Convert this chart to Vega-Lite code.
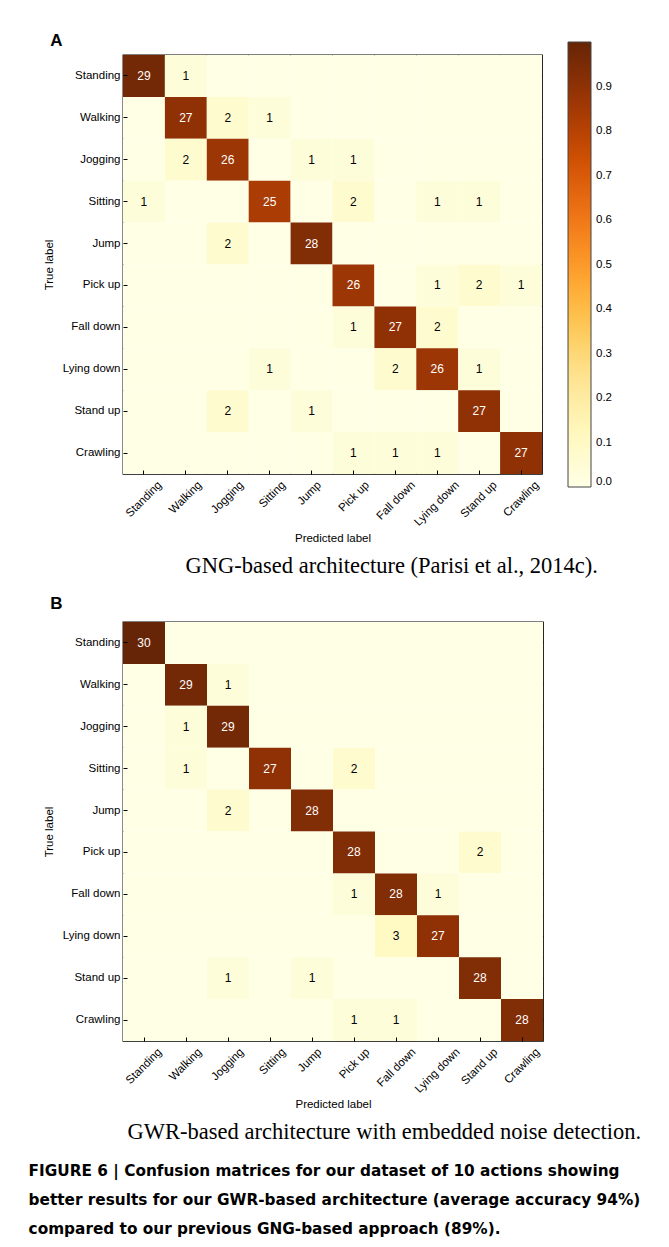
{
  "$schema": "https://vega.github.io/schema/vega-lite/v6.json",
  "background": "white",
  "padding": {"left": 28, "top": 30, "right": 10, "bottom": 10},
  "datasets": {
    "gng": [
      {"truth": "Standing", "Standing": 29, "Walking": 1, "Jogging": 0, "Sitting": 0, "Jump": 0, "Pick up": 0, "Fall down": 0, "Lying down": 0, "Stand up": 0, "Crawling": 0},
      {"truth": "Walking", "Standing": 0, "Walking": 27, "Jogging": 2, "Sitting": 1, "Jump": 0, "Pick up": 0, "Fall down": 0, "Lying down": 0, "Stand up": 0, "Crawling": 0},
      {"truth": "Jogging", "Standing": 0, "Walking": 2, "Jogging": 26, "Sitting": 0, "Jump": 1, "Pick up": 1, "Fall down": 0, "Lying down": 0, "Stand up": 0, "Crawling": 0},
      {"truth": "Sitting", "Standing": 1, "Walking": 0, "Jogging": 0, "Sitting": 25, "Jump": 0, "Pick up": 2, "Fall down": 0, "Lying down": 1, "Stand up": 1, "Crawling": 0},
      {"truth": "Jump", "Standing": 0, "Walking": 0, "Jogging": 2, "Sitting": 0, "Jump": 28, "Pick up": 0, "Fall down": 0, "Lying down": 0, "Stand up": 0, "Crawling": 0},
      {"truth": "Pick up", "Standing": 0, "Walking": 0, "Jogging": 0, "Sitting": 0, "Jump": 0, "Pick up": 26, "Fall down": 0, "Lying down": 1, "Stand up": 2, "Crawling": 1},
      {"truth": "Fall down", "Standing": 0, "Walking": 0, "Jogging": 0, "Sitting": 0, "Jump": 0, "Pick up": 1, "Fall down": 27, "Lying down": 2, "Stand up": 0, "Crawling": 0},
      {"truth": "Lying down", "Standing": 0, "Walking": 0, "Jogging": 0, "Sitting": 1, "Jump": 0, "Pick up": 0, "Fall down": 2, "Lying down": 26, "Stand up": 1, "Crawling": 0},
      {"truth": "Stand up", "Standing": 0, "Walking": 0, "Jogging": 2, "Sitting": 0, "Jump": 1, "Pick up": 0, "Fall down": 0, "Lying down": 0, "Stand up": 27, "Crawling": 0},
      {"truth": "Crawling", "Standing": 0, "Walking": 0, "Jogging": 0, "Sitting": 0, "Jump": 0, "Pick up": 1, "Fall down": 1, "Lying down": 1, "Stand up": 0, "Crawling": 27}
    ],
    "gwr": [
      {"truth": "Standing", "Standing": 30, "Walking": 0, "Jogging": 0, "Sitting": 0, "Jump": 0, "Pick up": 0, "Fall down": 0, "Lying down": 0, "Stand up": 0, "Crawling": 0},
      {"truth": "Walking", "Standing": 0, "Walking": 29, "Jogging": 1, "Sitting": 0, "Jump": 0, "Pick up": 0, "Fall down": 0, "Lying down": 0, "Stand up": 0, "Crawling": 0},
      {"truth": "Jogging", "Standing": 0, "Walking": 1, "Jogging": 29, "Sitting": 0, "Jump": 0, "Pick up": 0, "Fall down": 0, "Lying down": 0, "Stand up": 0, "Crawling": 0},
      {"truth": "Sitting", "Standing": 0, "Walking": 1, "Jogging": 0, "Sitting": 27, "Jump": 0, "Pick up": 2, "Fall down": 0, "Lying down": 0, "Stand up": 0, "Crawling": 0},
      {"truth": "Jump", "Standing": 0, "Walking": 0, "Jogging": 2, "Sitting": 0, "Jump": 28, "Pick up": 0, "Fall down": 0, "Lying down": 0, "Stand up": 0, "Crawling": 0},
      {"truth": "Pick up", "Standing": 0, "Walking": 0, "Jogging": 0, "Sitting": 0, "Jump": 0, "Pick up": 28, "Fall down": 0, "Lying down": 0, "Stand up": 2, "Crawling": 0},
      {"truth": "Fall down", "Standing": 0, "Walking": 0, "Jogging": 0, "Sitting": 0, "Jump": 0, "Pick up": 1, "Fall down": 28, "Lying down": 1, "Stand up": 0, "Crawling": 0},
      {"truth": "Lying down", "Standing": 0, "Walking": 0, "Jogging": 0, "Sitting": 0, "Jump": 0, "Pick up": 0, "Fall down": 3, "Lying down": 27, "Stand up": 0, "Crawling": 0},
      {"truth": "Stand up", "Standing": 0, "Walking": 0, "Jogging": 1, "Sitting": 0, "Jump": 1, "Pick up": 0, "Fall down": 0, "Lying down": 0, "Stand up": 28, "Crawling": 0},
      {"truth": "Crawling", "Standing": 0, "Walking": 0, "Jogging": 0, "Sitting": 0, "Jump": 0, "Pick up": 1, "Fall down": 1, "Lying down": 0, "Stand up": 0, "Crawling": 28}
    ]
  },
  "config": {
    "font": "Liberation Sans",
    "view": {"stroke": "black", "strokeWidth": 1.3},
    "axis": {
      "labelFont": "Liberation Sans",
      "labelFontSize": 11.5,
      "labelColor": "black",
      "tickColor": "black",
      "tickSize": -4,
      "domain": false,
      "grid": false,
      "titleFont": "Liberation Sans",
      "titleFontSize": 11.5,
      "titleFontWeight": "normal",
      "titleColor": "black"
    },
    "legend": {
      "labelFont": "Liberation Sans",
      "labelFontSize": 11.5,
      "labelColor": "black",
      "gradientStrokeColor": "#444",
      "gradientStrokeWidth": 1
    }
  },
  "title": {
    "text": [
      "FIGURE 6 | Confusion matrices for our dataset of 10 actions showing",
      "better results for our GWR-based architecture (average accuracy 94%)",
      "compared to our previous GNG-based approach (89%)."
    ],
    "orient": "bottom",
    "anchor": "start",
    "frame": "bounds",
    "font": "DejaVu Sans",
    "fontSize": 15.3,
    "fontWeight": "bold",
    "color": "black",
    "lineHeight": 29,
    "offset": 21,
    "dx": -14
  },
  "columns": 1,
  "align": "none",
  "spacing": 15,
  "concat": [
    {
      "title": {
        "text": "GNG-based architecture (Parisi et al., 2014c).",
        "orient": "bottom",
        "anchor": "start",
        "frame": "bounds",
        "font": "Liberation Serif",
        "fontSize": 22.5,
        "fontWeight": "normal",
        "color": "black",
        "offset": 10,
        "dx": 143
      },
      "vconcat": [
        {
          "title": {"text": "A", "anchor": "start", "frame": "bounds", "fontSize": 17, "fontWeight": "bold", "color": "black", "dx": 7, "offset": 5},
          "width": 419,
          "height": 419,
          "data": {"name": "gng"},
          "transform": [
            {"fold": ["Standing", "Walking", "Jogging", "Sitting", "Jump", "Pick up", "Fall down", "Lying down", "Stand up", "Crawling"], "as": ["predicted", "count"]}
          ],
          "resolve": {"axis": {"x": "independent", "y": "independent"}},
          "layer": [
            {
              "mark": "rect",
              "encoding": {
                "x": {
                  "field": "predicted", "type": "nominal",
                  "scale": {"domain": ["Standing", "Walking", "Jogging", "Sitting", "Jump", "Pick up", "Fall down", "Lying down", "Stand up", "Crawling"], "padding": 0},
                  "axis": {
                    "orient": "bottom", "title": "Predicted label", "labelAngle": -45, "labelAlign": "right", "labelBaseline": "middle",
                    "labelPadding": 13, "titlePadding": 5,
                    "labelOffset": {"expr": "length(datum.value) * 2.03"}
                  }
                },
                "y": {
                  "field": "truth", "type": "nominal",
                  "scale": {"domain": ["Standing", "Walking", "Jogging", "Sitting", "Jump", "Pick up", "Fall down", "Lying down", "Stand up", "Crawling"], "padding": 0},
                  "axis": {"orient": "left", "title": "True label", "labelPadding": 7, "titlePadding": 8}
                },
                "color": {
                  "field": "count", "type": "quantitative",
                  "scale": {
                    "domain": [0, 3.625, 7.25, 10.875, 14.5, 18.125, 21.75, 25.375, 29],
                    "range": ["#ffffe5", "#fff7bc", "#fee391", "#fec44f", "#fe9929", "#ec7014", "#cc4c02", "#993404", "#662506"]
                  },
                  "legend": {
                    "orient": "none", "legendX": 445, "legendY": -13, "direction": "vertical", "title": null,
                    "gradientLength": 445, "gradientThickness": 23, "labelOffset": 5,
                    "values": [0, 3, 6, 9, 12, 15, 18, 21, 24, 27],
                    "labelExpr": "format(datum.value / 30, '.1f')"
                  }
                }
              }
            },
            {
              "transform": [{"filter": "datum.count > 0"}],
              "mark": {"type": "text", "fontSize": 12, "font": "Liberation Sans"},
              "encoding": {
                "x": {"field": "predicted", "type": "nominal", "axis": {"orient": "top", "labels": false, "title": null}},
                "y": {"field": "truth", "type": "nominal", "axis": {"orient": "right", "labels": false, "title": null}},
                "text": {"field": "count", "type": "quantitative"},
                "color": {"condition": {"test": "datum.count >= 15", "value": "white"}, "value": "black"}
              }
            }
          ]
        }
      ]
    },
    {
      "title": {
        "text": "GWR-based architecture with embedded noise detection.",
        "orient": "bottom",
        "anchor": "start",
        "frame": "bounds",
        "font": "Liberation Serif",
        "fontSize": 22.5,
        "fontWeight": "normal",
        "color": "black",
        "offset": 10,
        "dx": 85
      },
      "vconcat": [
        {
          "title": {"text": "B", "anchor": "start", "frame": "bounds", "fontSize": 17, "fontWeight": "bold", "color": "black", "dx": 7, "offset": 9},
          "width": 420,
          "height": 419,
          "data": {"name": "gwr"},
          "transform": [
            {"fold": ["Standing", "Walking", "Jogging", "Sitting", "Jump", "Pick up", "Fall down", "Lying down", "Stand up", "Crawling"], "as": ["predicted", "count"]}
          ],
          "resolve": {"axis": {"x": "independent", "y": "independent"}},
          "layer": [
            {
              "mark": "rect",
              "encoding": {
                "x": {
                  "field": "predicted", "type": "nominal",
                  "scale": {"domain": ["Standing", "Walking", "Jogging", "Sitting", "Jump", "Pick up", "Fall down", "Lying down", "Stand up", "Crawling"], "padding": 0},
                  "axis": {
                    "orient": "bottom", "title": "Predicted label", "labelAngle": -45, "labelAlign": "right", "labelBaseline": "middle",
                    "labelPadding": 13, "titlePadding": 4,
                    "labelOffset": {"expr": "length(datum.value) * 2.03"}
                  }
                },
                "y": {
                  "field": "truth", "type": "nominal",
                  "scale": {"domain": ["Standing", "Walking", "Jogging", "Sitting", "Jump", "Pick up", "Fall down", "Lying down", "Stand up", "Crawling"], "padding": 0},
                  "axis": {"orient": "left", "title": "True label", "labelPadding": 7, "titlePadding": 8}
                },
                "color": {
                  "field": "count", "type": "quantitative",
                  "scale": {
                    "domain": [0, 3.75, 7.5, 11.25, 15, 18.75, 22.5, 26.25, 30],
                    "range": ["#ffffe5", "#fff7bc", "#fee391", "#fec44f", "#fe9929", "#ec7014", "#cc4c02", "#993404", "#662506"]
                  },
                  "legend": {
                    "orient": "none", "legendX": 446, "legendY": -14, "direction": "vertical", "title": null,
                    "gradientLength": 445, "gradientThickness": 23, "labelOffset": 5,
                    "values": [0, 3, 6, 9, 12, 15, 18, 21, 24, 27, 30],
                    "labelExpr": "format(datum.value / 30, '.1f')"
                  }
                }
              }
            },
            {
              "transform": [{"filter": "datum.count > 0"}],
              "mark": {"type": "text", "fontSize": 12, "font": "Liberation Sans"},
              "encoding": {
                "x": {"field": "predicted", "type": "nominal", "axis": {"orient": "top", "labels": false, "title": null}},
                "y": {"field": "truth", "type": "nominal", "axis": {"orient": "right", "labels": false, "title": null}},
                "text": {"field": "count", "type": "quantitative"},
                "color": {"condition": {"test": "datum.count >= 15", "value": "white"}, "value": "black"}
              }
            }
          ]
        }
      ]
    }
  ]
}
